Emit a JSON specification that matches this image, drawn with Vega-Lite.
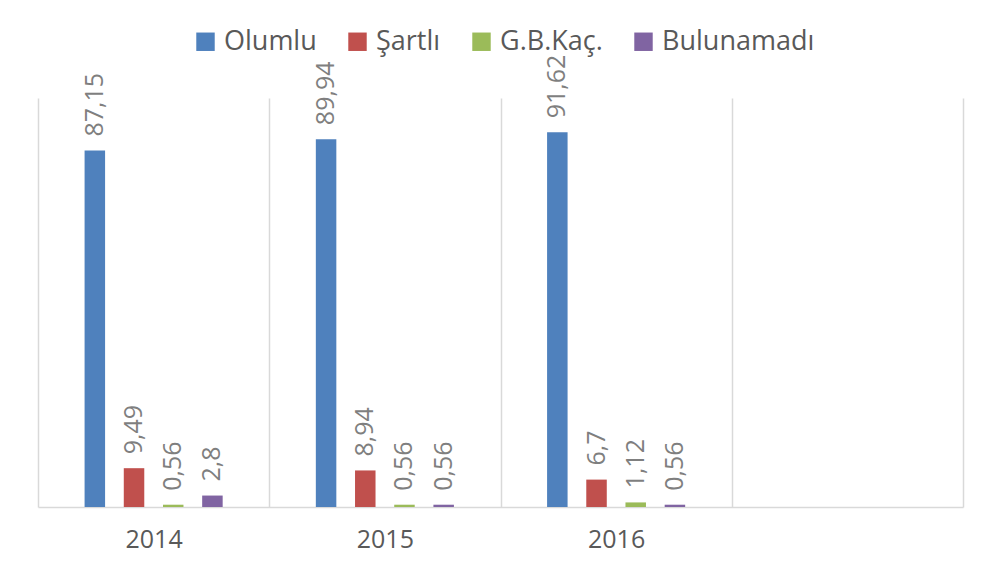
{
  "$schema": "https://vega.github.io/schema/vega-lite/v6.json",
  "width": 925,
  "height": 409,
  "autosize": {"type": "none"},
  "padding": {"left": 38, "top": 98, "right": 24, "bottom": 74},
  "background": "white",
  "config": {
    "view": {"stroke": null},
    "font": "Open Sans",
    "locale": {"number": {"decimal": ",", "thousands": ".", "grouping": [3], "currency": ["", ""]}}
  },
  "data": {
    "values": [
      {"yil": "2014", "durum": "Olumlu", "oran": 87.15},
      {"yil": "2014", "durum": "Şartlı", "oran": 9.49},
      {"yil": "2014", "durum": "G.B.Kaç.", "oran": 0.56},
      {"yil": "2014", "durum": "Bulunamadı", "oran": 2.8},
      {"yil": "2015", "durum": "Olumlu", "oran": 89.94},
      {"yil": "2015", "durum": "Şartlı", "oran": 8.94},
      {"yil": "2015", "durum": "G.B.Kaç.", "oran": 0.56},
      {"yil": "2015", "durum": "Bulunamadı", "oran": 0.56},
      {"yil": "2016", "durum": "Olumlu", "oran": 91.62},
      {"yil": "2016", "durum": "Şartlı", "oran": 6.7},
      {"yil": "2016", "durum": "G.B.Kaç.", "oran": 1.12},
      {"yil": "2016", "durum": "Bulunamadı", "oran": 0.56}
    ]
  },
  "encoding": {
    "x": {
      "field": "yil",
      "type": "nominal",
      "scale": {"domain": ["2014", "2015", "2016", ""], "paddingInner": 0, "paddingOuter": 0},
      "axis": {
        "title": null,
        "labelAngle": 0,
        "tickBand": "extent",
        "grid": true,
        "gridColor": "#d9d9d9",
        "gridWidth": 1.5,
        "ticks": false,
        "domainColor": "#d9d9d9",
        "domainWidth": 1.5,
        "labelFont": "Open Sans",
        "labelFontSize": 25,
        "labelColor": "#595959",
        "labelPadding": 20
      }
    },
    "xOffset": {
      "field": "durum",
      "type": "nominal",
      "sort": ["Olumlu", "Şartlı", "G.B.Kaç.", "Bulunamadı"],
      "scale": {"paddingInner": 0.1, "paddingOuter": 1}
    },
    "y": {
      "field": "oran",
      "type": "quantitative",
      "scale": {"domain": [0, 100]},
      "axis": null
    }
  },
  "layer": [
    {
      "mark": {"type": "bar", "width": 20.5},
      "encoding": {
        "color": {
          "field": "durum",
          "type": "nominal",
          "scale": {
            "domain": ["Olumlu", "Şartlı", "G.B.Kaç.", "Bulunamadı"],
            "range": ["#4f81bd", "#c0504d", "#9bbb59", "#8064a2"]
          },
          "legend": {
            "title": null,
            "orient": "none",
            "legendX": 154,
            "legendY": -70,
            "direction": "horizontal",
            "columns": 4,
            "padding": 0,
            "symbolType": "square",
            "symbolSize": 340,
            "symbolStrokeWidth": 0,
            "labelFont": "Open Sans",
            "labelFontSize": 27,
            "labelColor": "#595959",
            "labelOffset": 5,
            "columnPadding": 27,
            "labelLimit": 300
          }
        }
      }
    },
    {
      "mark": {
        "type": "text",
        "angle": 270,
        "align": "left",
        "baseline": "middle",
        "dx": 14,
        "font": "Open Sans",
        "fontSize": 25,
        "color": "#7f7f7f"
      },
      "encoding": {
        "text": {"field": "oran", "type": "quantitative", "format": ".4~g"}
      }
    }
  ]
}
